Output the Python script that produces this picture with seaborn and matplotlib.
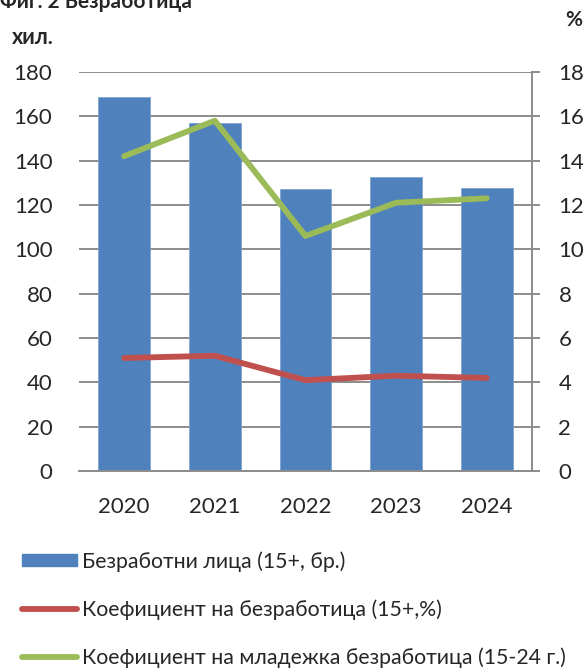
import numpy as np
import pandas as pd
import seaborn as sns
import matplotlib.pyplot as plt
from matplotlib.patches import Patch
from matplotlib.lines import Line2D

# data
years = ["2020", "2021", "2022", "2023", "2024"]
unemployed = [168.6, 156.8, 127.3, 132.5, 127.5]   # хил.
rate_15 = [5.1, 5.2, 4.1, 4.3, 4.2]                  # %
rate_youth = [14.2, 15.8, 10.6, 12.1, 12.3]          # %

labels = ["Безработни лица (15+, бр.)",
          "Коефициент на безработица (15+,%)",
          "Коефициент на младежка безработица (15-24 г.)"]

BLUE, RED, GREEN = "#4F81BD", "#C0504D", "#9BBB59"
GRID = "#8C8C8C"

sns.set_style("white")
plt.rcParams['font.family'] = ['Lato', 'DejaVu Sans']

df = pd.DataFrame({"year": years, "unemployed": unemployed,
                   "rate_15": rate_15, "rate_youth": rate_youth})
df["pos"] = np.arange(len(df))

fig = plt.figure(figsize=(5.84, 6.72), dpi=100)
ax = fig.add_axes([0.135, 0.299, 0.776, 0.594])

sns.barplot(data=df, x="year", y="unemployed", color=BLUE, width=0.57,
            saturation=1, edgecolor="#7FA3D3", linewidth=0.6, ax=ax, zorder=2)
ax.set_ylim(0, 180)
ax.set_yticks(range(0, 181, 20))
ax.set_xlim(-0.5, 4.5)
ax.grid(axis="y", color=GRID, linewidth=1.4, zorder=0)
ax.set_axisbelow(True)
ax.set_xlabel("")
ax.set_ylabel("")
for s in ["left", "top", "right"]:
    ax.spines[s].set_visible(False)
ax.spines["bottom"].set_color(GRID)
ax.spines["bottom"].set_linewidth(1.4)
ax.tick_params(axis="y", length=0, pad=19, labelsize=16)
ax.tick_params(axis="x", length=0, pad=19, labelsize=16)

ax2 = ax.twinx()
sns.lineplot(data=df, x="pos", y="rate_15", color=RED, linewidth=4.2, ax=ax2)
sns.lineplot(data=df, x="pos", y="rate_youth", color=GREEN, linewidth=4.2, ax=ax2)
ax2.set_ylim(0, 18)
ax2.set_yticks(range(0, 19, 2))
ax2.set_xlim(-0.5, 4.5)
ax2.set_ylabel("")
for s in ["left", "top", "bottom"]:
    ax2.spines[s].set_visible(False)
ax2.spines["right"].set_color(GRID)
ax2.spines["right"].set_linewidth(1.4)
ax2.tick_params(axis="y", length=6, width=1.4, color=GRID, direction="out",
                pad=13, labelsize=16)

fig.text(0.0, 1 - 8 / 672, "Фиг. 2 Безработица", fontsize=15, fontweight="bold",
         ha="left", va="baseline")
fig.text(12 / 584, 1 - 38 / 672, "хил.", fontsize=15.5, fontweight="bold",
         ha="left", va="center")
fig.text(582 / 584, 1 - 20 / 672, "%", fontsize=15, fontweight="bold",
         ha="right", va="center")

handles = [Patch(facecolor=BLUE, edgecolor=BLUE),
           Line2D([], [], color=RED, linewidth=4.2, solid_capstyle="round"),
           Line2D([], [], color=GREEN, linewidth=4.2, solid_capstyle="round")]
fig.legend(handles, labels, loc="upper left", bbox_to_anchor=(0.038, 1 - 551 / 672),
           frameon=False, fontsize=15.3, handlelength=2.6, handleheight=0.55,
           handletextpad=0.2, labelspacing=1.3, borderaxespad=0, borderpad=0)

fig.savefig("out.png", dpi=100)
